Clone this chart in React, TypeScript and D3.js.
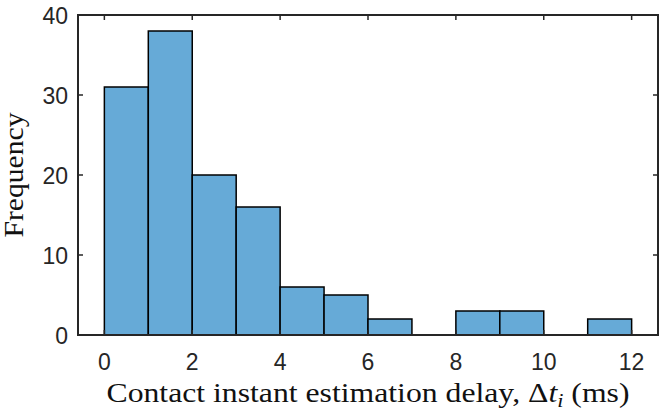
import React from "react";
import * as d3 from "d3";

// Histogram bin edges (ms) and counts per bin
const binStarts = [0, 1, 2, 3, 4, 5, 6, 7, 8, 9, 10, 11];
const binWidth = 1;
const counts = [31, 38, 20, 16, 6, 5, 2, 0, 3, 3, 0, 2];

// Axis ticks
const xTicks = [0, 2, 4, 6, 8, 10, 12];
const yTicks = [0, 10, 20, 30, 40];

const W = 668;
const H = 415;
const margin = { top: 15, right: 10, bottom: 80, left: 78 };
const axisColor = "#262626";
const barFill = "rgb(102,170,215)";
const tickLen = 5;

const App: React.FC = () => {
  const innerW = W - margin.left - margin.right;
  const innerH = H - margin.top - margin.bottom;

  const x = d3.scaleLinear().domain([-0.6, 12.6]).range([0, innerW]);
  const y = d3.scaleLinear().domain([0, 40]).range([innerH, 0]);

  const bins = binStarts.map((x0, i) => ({ x0, x1: x0 + binWidth, n: counts[i] }));

  return (
    <svg
      width={W}
      height={H}
      style={{ position: "absolute", left: 0, top: 0, background: "#fff" }}
    >
      <g transform={`translate(${margin.left},${margin.top})`}>
        {/* bars */}
        {bins
          .filter((b) => b.n > 0)
          .map((b, i) => (
            <rect
              key={i}
              x={x(b.x0)}
              y={y(b.n)}
              width={x(b.x1) - x(b.x0)}
              height={y(0) - y(b.n)}
              fill={barFill}
              stroke="#000"
              strokeWidth={1.5}
            />
          ))}

        {/* x ticks, bottom and top */}
        {xTicks.map((t) => (
          <g key={"x" + t} stroke={axisColor} strokeWidth={1.5}>
            <line x1={x(t)} x2={x(t)} y1={innerH} y2={innerH - tickLen} />
            <line x1={x(t)} x2={x(t)} y1={0} y2={tickLen} />
          </g>
        ))}
        {/* y ticks, left and right */}
        {yTicks.map((t) => (
          <g key={"y" + t} stroke={axisColor} strokeWidth={1.5}>
            <line x1={0} x2={tickLen} y1={y(t)} y2={y(t)} />
            <line x1={innerW} x2={innerW - tickLen} y1={y(t)} y2={y(t)} />
          </g>
        ))}

        {/* axes box */}
        <rect
          x={0}
          y={0}
          width={innerW}
          height={innerH}
          fill="none"
          stroke={axisColor}
          strokeWidth={2}
        />

        {/* tick labels */}
        {xTicks.map((t) => (
          <text
            key={"xl" + t}
            x={x(t)}
            y={innerH + 35}
            textAnchor="middle"
            fontFamily="Liberation Sans, Arial, sans-serif"
            fontSize={23}
            fill={axisColor}
          >
            {t}
          </text>
        ))}
        {yTicks.map((t) => (
          <text
            key={"yl" + t}
            x={-10}
            y={y(t) + 9}
            textAnchor="end"
            fontFamily="Liberation Sans, Arial, sans-serif"
            fontSize={23}
            fill={axisColor}
          >
            {t}
          </text>
        ))}

        {/* axis labels */}
        <text
          x={innerW / 2}
          y={innerH + 67}
          textAnchor="middle"
          fontFamily="Liberation Serif, Times New Roman, serif"
          fontSize={27}
          fill="#111"
          textLength={523}
          lengthAdjust="spacingAndGlyphs"
        >
          Contact instant estimation delay, Δ
          <tspan fontStyle="italic">t</tspan>
          <tspan fontStyle="italic" fontSize={19} dy={5}>
            i
          </tspan>
          <tspan dy={-5}> (ms)</tspan>
        </text>
        <text
          transform={`translate(${-margin.left + 23},${innerH / 2}) rotate(-90)`}
          textAnchor="middle"
          fontFamily="Liberation Serif, Times New Roman, serif"
          fontSize={27}
          fill="#111"
          textLength={125}
          lengthAdjust="spacingAndGlyphs"
        >
          Frequency
        </text>
      </g>
    </svg>
  );
};

export default App;
